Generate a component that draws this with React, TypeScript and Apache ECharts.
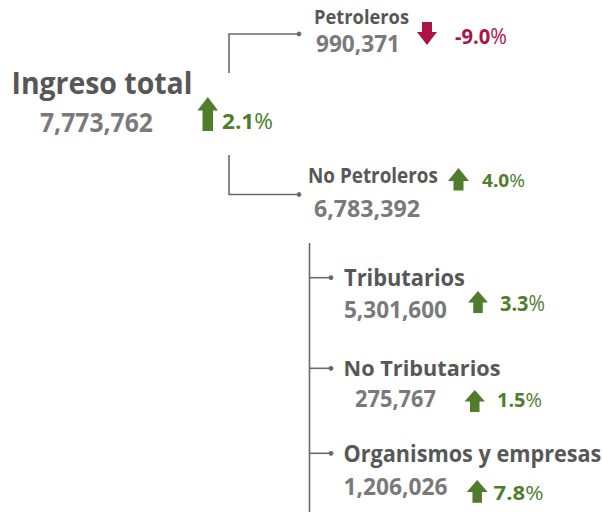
import React, { useEffect, useRef } from "react";
import * as echarts from "echarts";

// ---- data ----
const names = ["Ingreso total", "Petroleros", "No Petroleros", "Tributarios", "No Tributarios", "Organismos y empresas"];
const values = [7773762, 990371, 6783392, 5301600, 275767, 1206026];
const changes = [2.1, -9.0, 4.0, 3.3, 1.5, 7.8];

// ---- layout: [left x, centre y, font size, target width] ----
const layout = [
  { t: [11.5, 82.5, 29.5, 181], v: [40, 121.5, 27.5, 113], a: [197.5, 97, 20.5, 34, 13.5, 10.5], p: [222, 120.8, 21, 51] },
  { t: [314, 17, 19.8, 95], v: [316, 43.3, 23.4, 84], a: [417, 22, 20, 23, 13, 10], p: [455, 36, 21, 52] },
  { t: [308, 175.5, 21, 130], v: [314, 208.3, 23.4, 106], a: [448, 168, 21, 22.5, 13, 10], p: [482, 180.5, 18.5, 43] },
  { t: [344, 277, 22.4, 121], v: [344, 309.5, 22.5, 103], a: [468, 291, 20, 22, 11.5, 9.5], p: [500, 302.5, 21, 45] },
  { t: [343.5, 367, 22, 157], v: [355, 398, 22.5, 81], a: [464.5, 390, 20.5, 22, 11.5, 9.5], p: [497, 400, 19.2, 45] },
  { t: [343.5, 453, 22.4, 258], v: [343.5, 487, 22.5, 104], a: [466.7, 480, 21, 22.7, 12, 9.5], p: [493.5, 492.5, 19.6, 50] },
];

const FONT = "'Open Sans', 'Noto Sans', sans-serif";
const TITLE = "#575757";
const VALUE = "#7a7a7a";
const GREEN = "#4f7d2c";
const RED = "#ad1445";
const LINE = "#6a6a6a";

let ctx: CanvasRenderingContext2D | null = null;
function measure(text: string, font: string) {
  if (!ctx) ctx = document.createElement("canvas").getContext("2d");
  if (!ctx) return 1;
  ctx.font = font;
  return ctx.measureText(text).width || 1;
}

function arrow(x: number, y: number, w: number, h: number, head: number, shaft: number, up: boolean, color: string) {
  const cx = x + w / 2;
  const sl = cx - shaft / 2;
  const sr = cx + shaft / 2;
  const pts = up
    ? [[cx, y], [x + w, y + head], [sr, y + head], [sr, y + h], [sl, y + h], [sl, y + head], [x, y + head]]
    : [[sl, y], [sr, y], [sr, y + h - head], [x + w, y + h - head], [cx, y + h], [x, y + h - head], [sl, y + h - head]];
  return { type: "polygon", shape: { points: pts }, style: { fill: color }, silent: true };
}

function txt(text: string, x: number, y: number, size: number, width: number, color: string) {
  const font = `bold ${size}px ${FONT}`;
  const sx = width / measure(text, font);
  return {
    type: "text",
    x,
    y,
    scaleX: sx,
    style: { text, fill: color, font, textAlign: "left", textVerticalAlign: "middle" },
    silent: true,
  };
}

function pctText(v: number, x: number, y: number, size: number, width: number, color: string) {
  const num = v.toFixed(1);
  const w = measure(num, `bold ${size}px ${FONT}`) + measure("%", `normal ${size}px ${FONT}`);
  return {
    type: "text",
    x,
    y,
    scaleX: width / w,
    style: {
      text: `{b|${num}}{n|%}`,
      textAlign: "left",
      textVerticalAlign: "middle",
      rich: {
        b: { fontFamily: FONT, fontSize: size, fontWeight: "bold", fill: color, color },
        n: { fontFamily: FONT, fontSize: size, fontWeight: "normal", fill: color, color },
      },
    },
    silent: true,
  };
}

function line(points: number[][]) {
  return { type: "polyline", shape: { points }, style: { stroke: LINE, lineWidth: 1.6, fill: "none" }, silent: true };
}
function dot(x: number, y: number) {
  return { type: "circle", shape: { cx: x, cy: y, r: 2.4 }, style: { fill: LINE }, silent: true };
}

export default function App() {
  const ref = useRef<HTMLDivElement>(null);
  useEffect(() => {
    if (!ref.current) return;
    const chart = echarts.init(ref.current, undefined, { renderer: "svg" });
    const elements: any[] = [];

    // connectors
    elements.push(line([[229, 73], [229, 34], [298, 34]]), dot(299, 34));
    elements.push(line([[229, 155], [229, 194.5], [298, 194.5]]), dot(299, 194.5));
    elements.push(line([[309.5, 243], [309.5, 512]]));
    [277.7, 368.3, 453.3].forEach((y) => {
      elements.push(line([[309.5, y], [330, y]]), dot(331, y));
    });

    names.forEach((name, i) => {
      const L = layout[i];
      const up = changes[i] >= 0;
      const col = up ? GREEN : RED;
      elements.push(txt(name, L.t[0], L.t[1], L.t[2], L.t[3], TITLE));
      elements.push(txt(values[i].toLocaleString("en-US"), L.v[0], L.v[1], L.v[2], L.v[3], VALUE));
      elements.push(arrow(L.a[0], L.a[1], L.a[2], L.a[3], L.a[4], L.a[5], up, col));
      elements.push(pctText(changes[i], L.p[0], L.p[1], L.p[2], L.p[3], col));
    });

    chart.setOption({
      animation: false,
      backgroundColor: "#ffffff",
      graphic: { elements },
    });
    return () => chart.dispose();
  }, []);
  return <div ref={ref} style={{ position: "fixed", left: 0, top: 0, width: 602, height: 512 }} />;
}
